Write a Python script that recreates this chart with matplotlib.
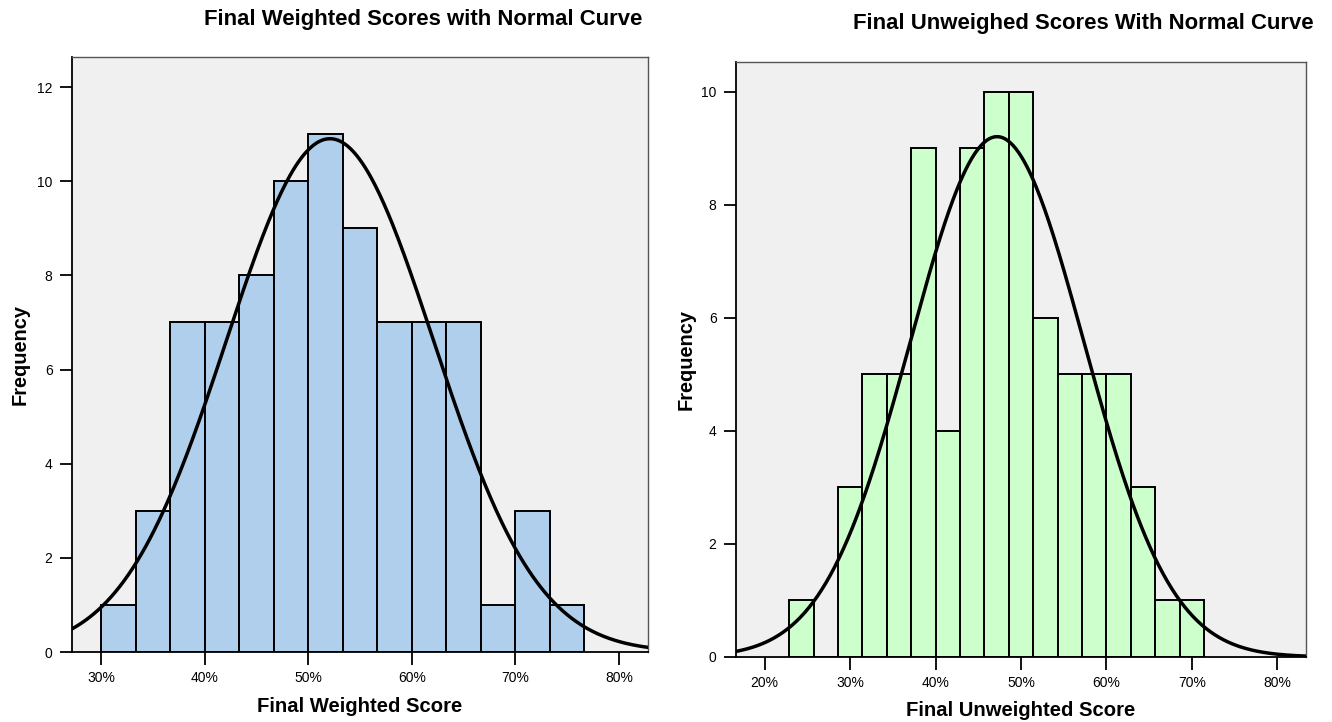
import numpy as np
import matplotlib
matplotlib.use("Agg")
import matplotlib.pyplot as plt
from matplotlib.ticker import FuncFormatter

plt.rcParams['font.family'] = ['Liberation Sans', 'DejaVu Sans']

# ---- data: left chart (Final Weighted Score) ----
w_bin_start = 30.0
w_bin_width = 10.0 / 3.0
w_counts = [1, 3, 7, 7, 8, 10, 11, 9, 7, 7, 7, 1, 3, 1]
w_mean, w_sd = 52.1, 10.0

# ---- data: right chart (Final Unweighted Score) ----
u_bin_start = 160.0 / 7.0
u_bin_width = 20.0 / 7.0
u_counts = [1, 0, 3, 5, 5, 9, 4, 9, 10, 10, 6, 5, 5, 5, 3, 1, 1]
u_mean, u_sd = 47.2, 10.15

x_ticks = [20, 30, 40, 50, 60, 70, 80]

fig = plt.figure(figsize=(13.32, 7.22), dpi=100)
fig.patch.set_facecolor('white')

def draw(ax, start, width, counts, mean, sd, color, xlim, ylim, yticks, xticks):
    counts = np.asarray(counts, dtype=float)
    lefts = start + width * np.arange(len(counts))
    ax.set_facecolor('#F0F0F0')
    ax.bar(lefts, counts, width=width, align='edge', color=color,
           edgecolor='black', linewidth=1.4, zorder=2)
    n = counts.sum()
    xs = np.linspace(xlim[0], xlim[1], 400)
    ys = n * width * np.exp(-0.5 * ((xs - mean) / sd) ** 2) / (sd * np.sqrt(2 * np.pi))
    ax.plot(xs, ys, color='black', linewidth=2.5, zorder=3)
    ax.set_xlim(*xlim)
    ax.set_ylim(*ylim)
    ax.set_yticks(yticks)
    ax.set_xticks([t for t in xticks if xlim[0] <= t <= xlim[1]])
    ax.xaxis.set_major_formatter(FuncFormatter(lambda v, p: f"{int(round(v))}%"))
    ax.tick_params(axis='both', direction='out', length=9, width=1.3,
                   labelsize=10, color='black', pad=5)
    for s in ['top', 'right']:
        ax.spines[s].set_color('#555555')
        ax.spines[s].set_linewidth(1.0)
    for s in ['left', 'bottom']:
        ax.spines[s].set_color('black')
        ax.spines[s].set_linewidth(1.3)
    ax.set_ylabel('Frequency', fontsize=14.4, fontweight='bold')
    ax.yaxis.label.set_va('center')

ax1 = fig.add_axes([72 / 1332, 70 / 722, 576 / 1332, 595 / 722])
draw(ax1, w_bin_start, w_bin_width, w_counts, w_mean, w_sd, '#AFCFED',
     (27.2, 82.8), (0, 12.64), [0, 2, 4, 6, 8, 10, 12], x_ticks)
ax1.set_xlabel('Final Weighted Score', fontsize=14.6, fontweight='bold')
ax1.xaxis.label.set_va('center')
ax1.xaxis.set_label_coords(0.5, -54 / 595)
ax1.yaxis.set_label_coords(-52 / 576, 0.5)

ax2 = fig.add_axes([736 / 1332, 65 / 722, 570 / 1332, 595 / 722])
draw(ax2, u_bin_start, u_bin_width, u_counts, u_mean, u_sd, '#CCFFCC',
     (16.64, 83.36), (0, 10.53), [0, 2, 4, 6, 8, 10], x_ticks)
ax2.set_xlabel('Final Unweighted Score', fontsize=14.6, fontweight='bold')
ax2.xaxis.label.set_va('center')
ax2.xaxis.set_label_coords(0.5, -53 / 595)
ax2.yaxis.set_label_coords(-50 / 570, 0.5)

fig.text(423 / 1332, 1 - 19 / 722, 'Final Weighted Scores with Normal Curve',
         ha='center', va='center', fontsize=15.9, fontweight='bold')
fig.text(1083 / 1332, 1 - 24 / 722, 'Final Unweighed Scores With Normal Curve',
         ha='center', va='center', fontsize=15.9, fontweight='bold')

fig.savefig('out.png', dpi=100, facecolor='white')
